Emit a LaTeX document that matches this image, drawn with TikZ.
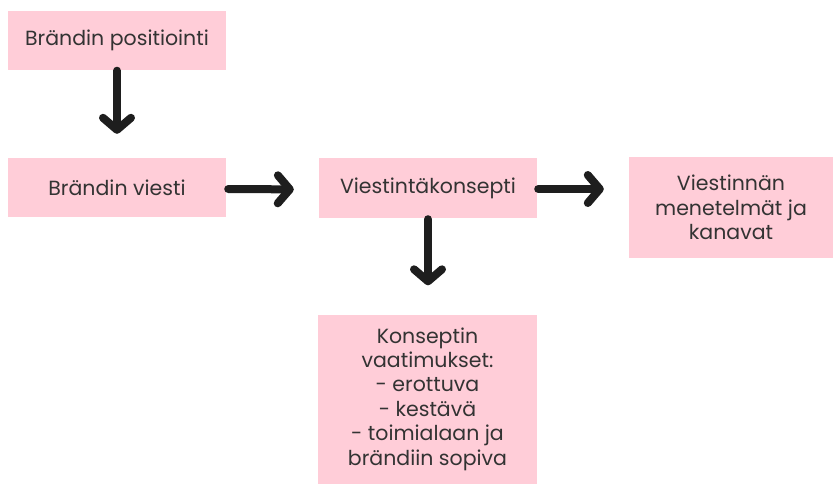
\documentclass[tikz,border=0pt]{standalone}
\usepackage{fontspec}
\setmainfont{Poppins}
\usetikzlibrary{arrows.meta}
\definecolor{boxpink}{HTML}{FFCDD8}
\definecolor{arrowdark}{HTML}{1E1E1E}
\begin{document}
\begin{tikzpicture}[x=1pt,y=-1pt,
  box/.style={fill=boxpink, draw=none, inner sep=0pt, align=center,
    font=\fontsize{20.5}{24.4}\selectfont, text=black!80},
  conn/.style={draw=arrowdark, line width=8pt, line cap=round,
    -{Straight Barb[length=12pt, width=28pt, round]}}]
\useasboundingbox (0,0) rectangle (835,483);
\node[box, minimum width=218pt, minimum height=59pt] (b1) at (117,40) {Brändin positiointi};
\node[box, minimum width=218pt, minimum height=59pt] (b2) at (117,187.5) {Brändin viesti};
\node[box, minimum width=218pt, minimum height=60pt] (b3) at (428,188) {Viestintäkonsepti};
\node[box, minimum width=204pt, minimum height=101pt] (b4) at (731,207.5) {Viestinnän\\menetelmät ja\\kanavat};
\node[box, minimum width=219pt, minimum height=169pt] (b5) at (427.5,399) {Konseptin\\vaatimukset:\\- erottuva\\- kestävä\\- toimialaan ja\\brändiin sopiva};
\draw[conn, shorten <=1pt, shorten >=24pt] (b1.south) -- (b2.north);
\draw[conn, shorten <=2pt, shorten >=25pt] ([yshift=-1.5pt]b2.east) -- ([yshift=-1.5pt]b3.west);
\draw[conn, shorten <=1pt, shorten >=25pt] ([yshift=-1pt]b3.east) -- ([yshift=-1pt]b3.east -| b4.west);
\draw[conn, shorten <=1pt, shorten >=29pt] (b3.south) -- (b3.south |- b5.north);
\end{tikzpicture}
\end{document}
